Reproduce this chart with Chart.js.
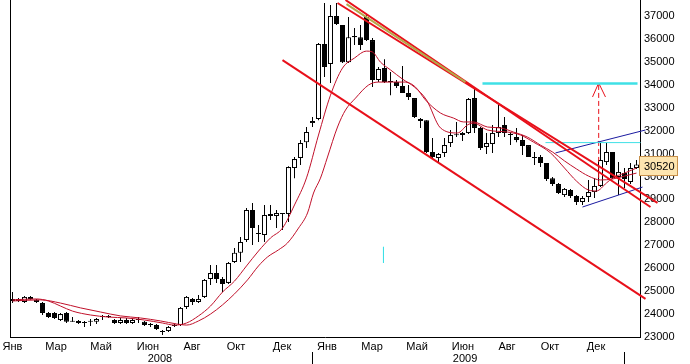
<!DOCTYPE html>
<html><head><meta charset="utf-8">
<script src="https://cdn.jsdelivr.net/npm/chart.js@4.4.1/dist/chart.umd.min.js"></script>
<style>html,body{margin:0;padding:0;background:#fff}canvas{display:block}</style>
</head><body>
<canvas id="c" width="690" height="364" style="width:690px;height:364px"></canvas>
<script>
// weekly candles, index 0 = first week of Jan 2008
const openP = [24660,24660,24530,24750,24620,24480,24050,24050,23740,24050,
23700,23700,23620,23660,23660,23870,23920,23740,23610,23740,
23610,23740,23660,23520,23520,23220,23260,23480,23520,24310,
24660,24530,24750,25530,25790,25530,25360,26270,26670,27230,
28540,27540,27450,28370,28280,28360,28370,30370,30810,31500,
32330,32510,35780,34910,37000,36610,34990,36130,36080,36960,
35950,34210,34730,34120,34120,33950,33640,33420,32510,32460,
31070,30810,31030,31460,31800,31810,31900,33420,32120,31290,
31420,31900,32250,31820,31720,31590,31370,30850,30850,30590,
29930,29670,29190,29410,29150,28890,29110,29320,29590,30630,
31070,29980,30150,29760,30370];
const highP = [24960,24700,24790,24790,24660,24530,24090,24090,24050,24090,
23870,23740,23700,23790,23830,23960,23960,23790,23830,23830,
23830,23870,23700,23610,23570,23310,23480,23570,24310,24790,
24700,24830,25530,26140,26140,25620,26270,26880,27360,28630,
28850,27890,28760,28760,28540,28410,30450,30850,31590,32160,
32600,35820,37570,37480,37570,36610,36960,36480,36610,37040,
36040,34780,35120,34560,34210,34820,33990,33420,32550,32460,
31680,31030,31680,32030,32380,31940,33420,33820,32160,31900,
32250,33120,32600,31940,32120,31810,31370,31070,30940,30590,
29980,29720,29500,29460,29190,29150,29850,29930,31460,31460,
31070,30630,30370,30590,30720];
const lowP = [24480,24530,24480,24620,24480,23960,23830,23790,23700,23610,
23660,23570,23440,23480,23570,23740,23830,23570,23570,23570,
23570,23610,23480,23440,23310,23090,23220,23440,23480,24220,
24400,24480,24700,25270,25360,24960,25310,26230,26270,27140,
27010,27140,27140,28100,27750,27670,28020,29930,30500,31240,
32160,32460,34340,34080,36610,34950,34950,35740,35520,35910,
33900,34120,34080,33550,33860,33640,33340,32550,32120,31030,
30810,30590,30850,31290,31720,31550,31850,31900,31160,30980,
31030,31720,31720,31370,31500,30940,30850,30500,30410,29800,
29590,29240,29110,29060,28760,28760,28890,29060,29540,30500,
29890,29190,29500,29670,30330];
const closeP = [24570,24570,24750,24660,24530,24050,23870,23830,24000,23660,
23660,23610,23610,23670,23790,23880,23870,23610,23740,23610,
23740,23750,23520,23530,23350,23230,23440,23520,24270,24750,
24530,24660,25490,25790,25530,25310,26230,26670,27140,28540,
27750,27490,28320,28280,28410,28370,30410,30760,31460,31940,
32420,35780,34780,37000,36650,34990,36080,36080,35740,35950,
34210,34690,34120,34130,33950,33640,33470,32600,32420,31070,
30850,30980,31370,31810,31810,31900,33380,32120,31240,31460,
31900,32160,31900,31810,31590,31330,30850,30810,30590,29890,
29670,29280,29460,29150,28890,29060,29320,29590,30720,31070,
29930,30200,29890,30370,30520];

// moving averages (week index, price)
const fastMAx = [0,4,6,8,10,13,16,19,22,25,27,29,31,33,35,37,39,41,43,45,47,49,51,53,55,57,59,60,61.33,63,65,67,69,71.33,74.17,75.83,76.83,79.17,82.5,84.67,86.83,89.67,92,94,96,97.33,99,100,102,104];
const fastMAy = [24620,24660,24570,24350,24130,23960,23870,23830,23740,23610,23520,23610,23920,24350,24960,25440,26100,26750,27320,27750,28760,29940,31810,33550,34730,35170,35470,35430,34990,34650,34250,33900,33340,32120,31900,32250,32330,32030,31940,31810,31500,31030,30370,29800,29410,29370,29720,29930,30150,30370];
const slowMAx = [0,4.67,8,11.33,14.67,18,21.33,24.67,27.33,29,31,33,35,37,39.17,41,42.5,44.33,45.83,47.67,49.17,50.17,51.33,52.5,54.17,55.5,57.17,59.33,61,63.33,65.5,67.17,68.83,71.33,73.5,75.17,76.83,79.17,81.33,83.5,85.83,88,90,92,94,96,98,100,102,104];
const slowMAy = [24570,24620,24480,24270,24090,23920,23830,23700,23570,23520,23700,24000,24400,24880,25490,26100,26490,26800,27100,27750,28410,29280,29930,30850,32160,32900,33420,33990,34120,34120,34120,33900,33340,32770,32550,32380,32380,32160,32120,31940,31720,31370,31070,30680,30330,30020,29850,29890,30020,30150];

// hand-drawn lines (week index, price)
const lowChannelX = [45, 105.5], lowChannelY = [35080, 24660];
const upperLineAX = [54.17, 107.5], upperLineAY = [37570, 28850];
const upperLineBX = [55.5, 106.33], upperLineBY = [37700, 28670];
const oliveLineX = [55.67, 75.5], oliveLineY = [37520, 34120];
const targetLineX = [78.33, 104.17], targetLineY = [34060, 34060];
const levelLineX = [88.83, 104.67], levelLineY = [31480, 31480];
const blueUpperX = [90.5, 105.5], blueUpperY = [31030, 32030];
const blueLowerX = [95, 105], blueLowerY = [28670, 29540];
const arrowX = [97.7, 97.7], arrowY = [29590, 34080];
const arrowHeadX = [96.67, 97.7, 98.83], arrowHeadY = [33470, 34080, 33470];
const markX = [61.83, 61.83], markY = [26930, 26230];

// axis ticks
const priceTicks = [23000,24000,25000,26000,27000,28000,29000,30000,31000,32000,33000,34000,35000,36000,37000];
const monthPos = [0,7.25,14.75,22.58,29.92,37.25,44.92,52.42,59.92,67.42,75.08,82.42,89.58,97.25];
const monthLabels = ['Янв','Мар','Май','Июн','Авг','Окт','Дек','Янв','Мар','Май','Июн','Авг','Окт','Дек'];
const yearPos = [24.58, 75.42];
const yearLabels = ['2008','2009'];
const yearBreaks = [50, 102];

const X_MIN = -0.4167, X_MAX = 104.5833, Y_MIN = 23000, Y_MAX = 37700;

Chart.defaults.font.family = "'Liberation Sans', Arial, sans-serif";
Chart.defaults.font.size = 11;
Chart.defaults.color = '#000';

function seg(xs, ys, color, width, extra) {
  return Object.assign({
    type: 'line', data: xs.map((x, i) => ({x: x, y: ys[i]})),
    borderColor: color, borderWidth: width, pointRadius: 0, pointHoverRadius: 0,
    fill: false, tension: 0, clip: false, order: 1
  }, extra || {});
}
function ma(xs, ys) {
  return {
    type: 'line', data: xs.map((x, i) => ({x: x, y: ys[i]})),
    borderColor: '#C0102A', borderWidth: 1, pointRadius: 0, fill: false,
    cubicInterpolationMode: 'monotone', order: 3
  };
}
const isUp = i => closeP[i] >= openP[i];

const decor = {
  id: 'decor',
  afterDraw(chart) {
    const ctx = chart.ctx, xs = chart.scales.x, ys = chart.scales.y;
    ctx.save();
    ctx.strokeStyle = '#000'; ctx.lineWidth = 1;
    yearBreaks.forEach(v => {
      const px = Math.floor(xs.getPixelForValue(v)) + 0.5;
      ctx.beginPath(); ctx.moveTo(px, 352); ctx.lineTo(px, 364); ctx.stroke();
    });
    const last = closeP[closeP.length - 1];
    const py = ys.getPixelForValue(last);
    const top = Math.round(py - 9) + 0.5;
    ctx.fillStyle = '#FDE5B0'; ctx.strokeStyle = '#C8904A';
    ctx.fillRect(639.5, top, 38, 19); ctx.strokeRect(639.5, top, 38, 19);
    ctx.fillStyle = '#000'; ctx.font = "11px 'Liberation Sans', Arial, sans-serif";
    ctx.textBaseline = 'middle'; ctx.textAlign = 'left';
    ctx.fillText(String(last), 644, top + 10);
    ctx.restore();
  }
};

function fixPad(s) { s.paddingTop = 0; s.paddingBottom = 0; s.paddingLeft = 0; s.paddingRight = 0; }

new Chart(document.getElementById('c'), {
  type: 'bar',
  data: {
    datasets: [
      seg(lowChannelX, lowChannelY, '#E8101A', 2),
      seg(oliveLineX, oliveLineY, '#B4A84A', 2),
      seg(upperLineAX, upperLineAY, '#E8101A', 2),
      seg(upperLineBX, upperLineBY, '#E8101A', 2),
      seg(targetLineX, targetLineY, '#3FE0E6', 2.5),
      seg(levelLineX, levelLineY, '#3FE0E6', 1),
      seg(blueUpperX, blueUpperY, '#1A1AA0', 1),
      seg(blueLowerX, blueLowerY, '#1A1AA0', 1),
      seg(arrowX, arrowY, '#E8101A', 1, {borderDash: [5, 3]}),
      seg(arrowHeadX, arrowHeadY, '#E8101A', 1),
      seg(markX, markY, '#3FE0E6', 1),
      ma(fastMAx, fastMAy),
      ma(slowMAx, slowMAy),
      {
        type: 'bar', order: 4,
        data: openP.map((o, i) => ({x: i, y: [o, closeP[i]]})),
        backgroundColor: c => isUp(c.dataIndex) ? '#FFFFFF' : '#000000',
        borderColor: '#000', borderWidth: 1, borderSkipped: false,
        grouped: false, barPercentage: 1, categoryPercentage: 1, maxBarThickness: 5,
        minBarLength: 1, inflateAmount: 0
      },
      {
        type: 'bar', order: 5,
        data: lowP.map((l, i) => ({x: i, y: [l, highP[i]]})),
        backgroundColor: '#000', borderWidth: 0, borderSkipped: false,
        grouped: false, barPercentage: 1, categoryPercentage: 1, maxBarThickness: 1,
        inflateAmount: 0
      }
    ]
  },
  options: {
    responsive: false, animation: false, devicePixelRatio: 1,
    layout: {padding: 0},
    plugins: {legend: {display: false}, tooltip: {enabled: false}},
    events: [],
    scales: {
      x: {
        type: 'linear', position: 'bottom', min: X_MIN, max: X_MAX, offset: false, weight: 0,
        grid: {display: false, drawTicks: false, tickLength: 0}, border: {display: true, color: '#000', width: 1},
        afterBuildTicks: s => { s.ticks = monthPos.map(v => ({value: v})); },
        ticks: {autoSkip: false, maxRotation: 0, minRotation: 0, padding: 3,
          callback: (v, i) => monthLabels[i]},
        afterFit: s => { s.height = 15; fixPad(s); }
      },
      x2: {
        type: 'linear', position: 'bottom', min: X_MIN, max: X_MAX, offset: false, weight: 1,
        grid: {display: false, drawTicks: false, tickLength: 0}, border: {display: false},
        afterBuildTicks: s => { s.ticks = yearPos.map(v => ({value: v})); },
        ticks: {autoSkip: false, maxRotation: 0, minRotation: 0, padding: 0,
          callback: (v, i) => yearLabels[i]},
        afterFit: s => { s.height = 12; fixPad(s); }
      },
      y: {
        type: 'linear', position: 'right', min: Y_MIN, max: Y_MAX,
        grid: {display: false, drawTicks: false, tickLength: 0}, border: {display: true, color: '#000', width: 1},
        afterBuildTicks: s => { s.ticks = priceTicks.map(v => ({value: v})); },
        ticks: {padding: 4, callback: v => String(v)},
        afterFit: s => { s.width = 50; fixPad(s); }
      },
      yl: {
        type: 'linear', position: 'left', min: 0, max: 1,
        grid: {display: false, drawTicks: false, tickLength: 0}, border: {display: true, color: '#000', width: 1},
        ticks: {display: false},
        afterFit: s => { s.width = 10; fixPad(s); }
      }
    }
  },
  plugins: [decor]
});
</script>
</body></html>
